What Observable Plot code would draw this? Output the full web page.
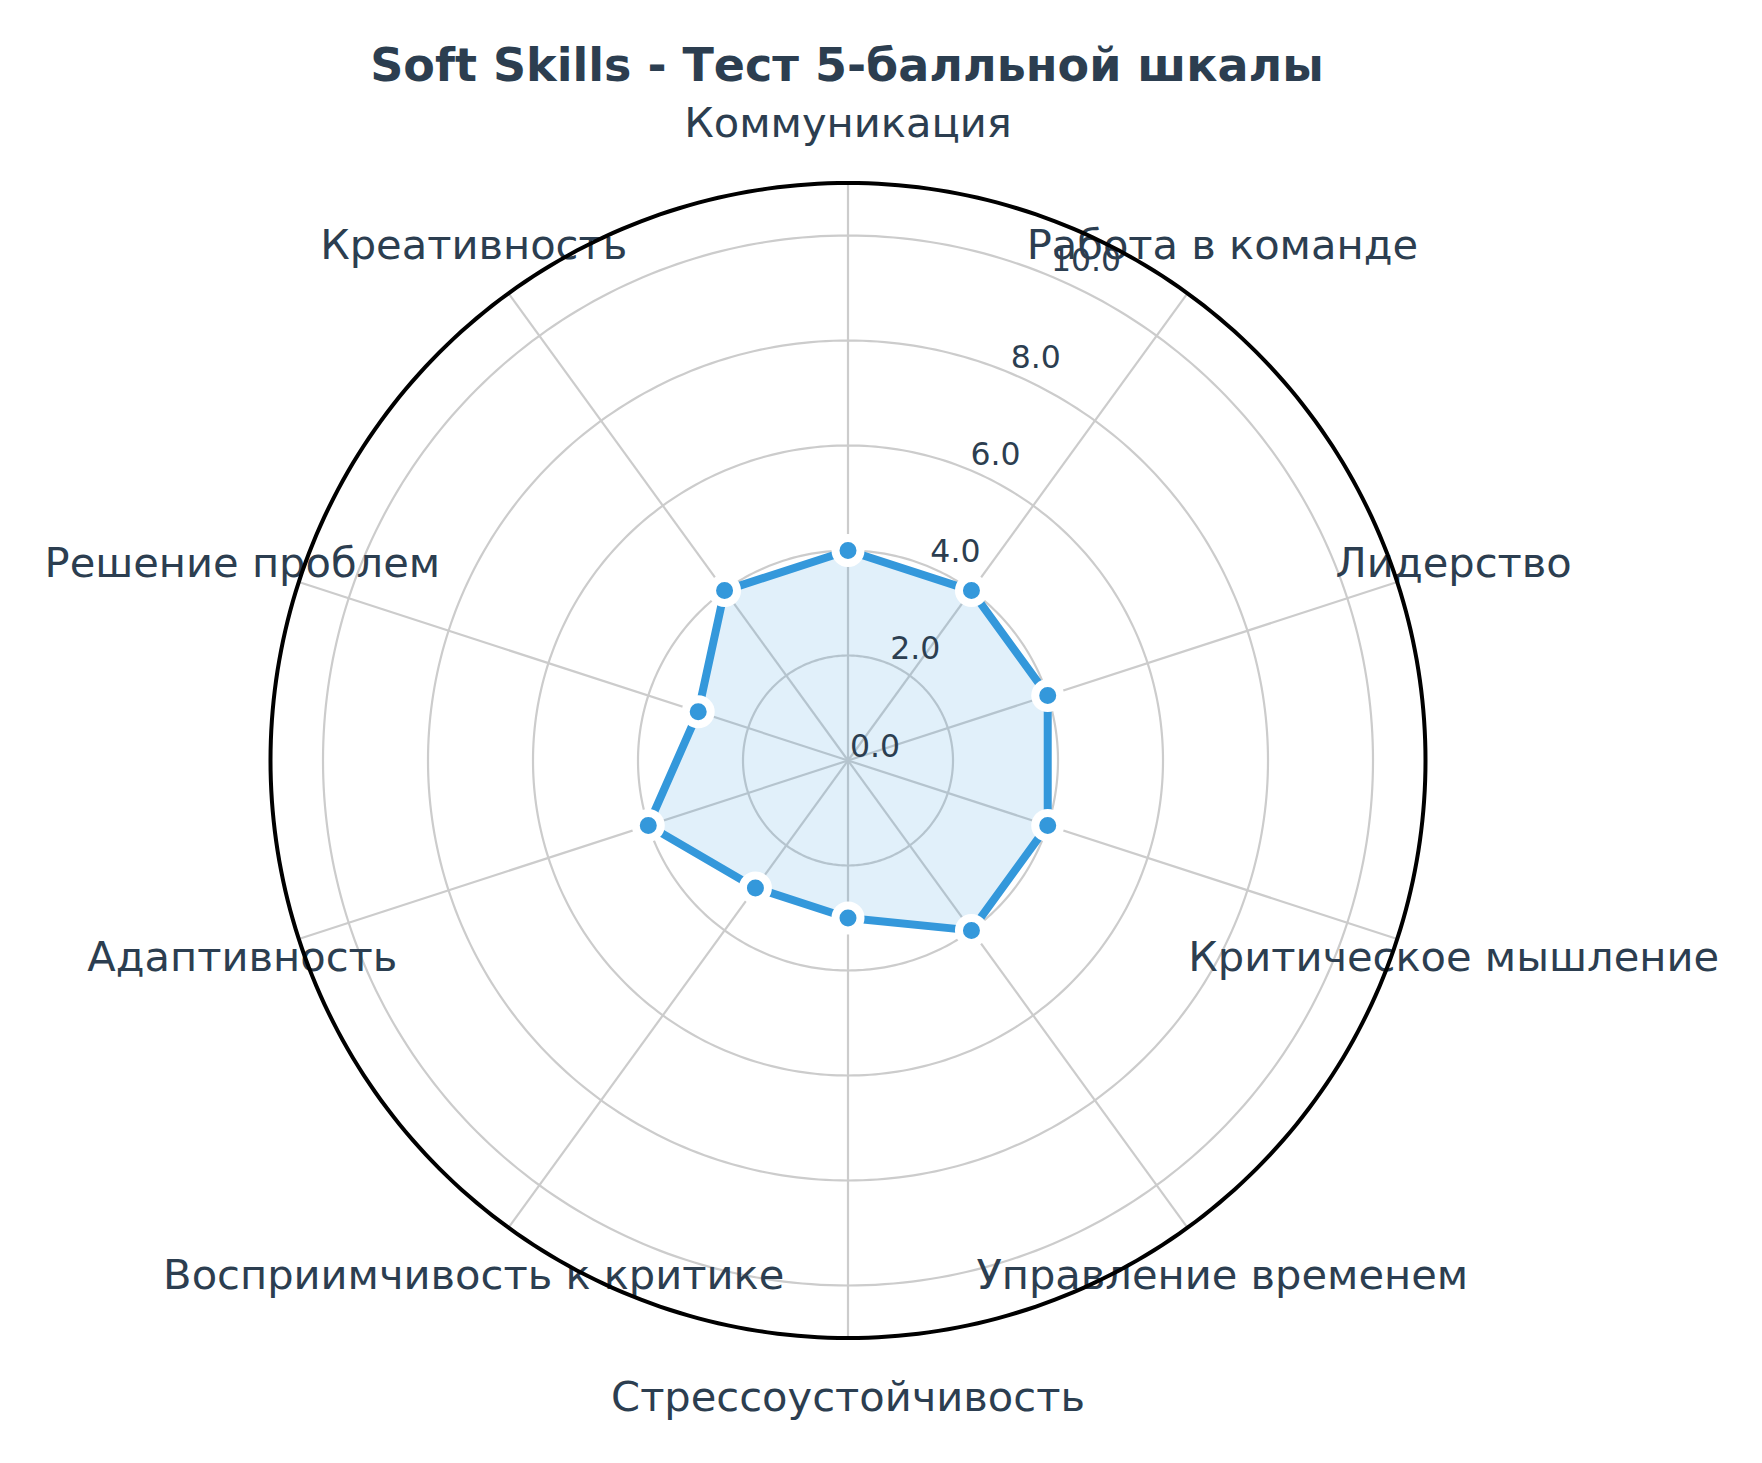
<!DOCTYPE html>
<html>
<head>
<meta charset="utf-8">
<script src="https://cdn.jsdelivr.net/npm/d3@7"></script>
<script src="https://cdn.jsdelivr.net/npm/@observablehq/plot@0.6"></script>
<style>
  html, body { margin: 0; padding: 0; background: #fff; }
  #wrap { position: relative; width: 1762px; height: 1463px; overflow: hidden; }
  #title { position: absolute; left: 847px; top: 37px; transform: translateX(-50%);
           font-family: "DejaVu Sans", sans-serif; font-weight: bold; font-size: 46px;
           color: #2c3e50; white-space: nowrap; line-height: 56px; }
  #chart { position: absolute; left: 0; top: 90px; }
</style>
</head>
<body>
<div id="wrap">
  <div id="title">Soft Skills - Тест 5-балльной шкалы</div>
  <div id="chart"></div>
</div>
<script>
const categories = ["Коммуникация", "Работа в команде", "Лидерство", "Критическое мышление",
  "Управление временем", "Стрессоустойчивость", "Восприимчивость к критике",
  "Адаптивность", "Решение проблем", "Креативность"];
const values = [4, 4, 4, 4, 4, 3, 3, 4, 3, 4];
const radialTicks = [0, 2, 4, 6, 8, 10];
const radialMax = 11;

const W = 1762, H = 1373;
const cx = 847.5, cy = 670, unit = 52.5;
const n = categories.length;
const ang = i => (i / n) * 2 * Math.PI; // clockwise from north
const px = (r, a) => r * Math.sin(a);
const py = (r, a) => r * Math.cos(a);

// grid circles built from tick values
const gridPts = [];
for (const r of radialTicks.filter(t => t > 0)) {
  for (let k = 0; k <= 360; k++) {
    const a = k / 360 * 2 * Math.PI;
    gridPts.push({r, x: px(r, a), y: py(r, a)});
  }
}
const outerPts = d3.range(0, 361).map(k => {
  const a = k / 360 * 2 * Math.PI;
  return {x: px(radialMax, a), y: py(radialMax, a)};
});
const spokes = categories.map((c, i) => ({x2: px(radialMax, ang(i)), y2: py(radialMax, ang(i))}));
const pts = categories.map((c, i) => ({c, v: values[i], x: px(values[i], ang(i)), y: py(values[i], ang(i))}));
const closed = [...pts, pts[0]];
const labelR = 12.13;
const labels = categories.map((c, i) => ({c, x: px(labelR, ang(i)), y: py(labelR, ang(i))}));
const rlabAng = 22.5 / 180 * Math.PI;
const rlabels = radialTicks.map(t => ({t, x: px(t, rlabAng), y: py(t, rlabAng)}));

const plot = Plot.plot({
  width: W, height: H,
  margin: 0,
  style: {fontFamily: "DejaVu Sans, sans-serif", background: "white"},
  x: {type: "linear", domain: [0, 1], range: [cx, cx + unit], axis: null},
  y: {type: "linear", domain: [0, 1], range: [cy, cy - unit], axis: null},
  marks: [
    Plot.line(gridPts, {x: "x", y: "y", z: "r", stroke: "#cccccc", strokeWidth: 2.2}),
    Plot.link(spokes, {x1: 0, y1: 0, x2: "x2", y2: "y2", stroke: "#cccccc", strokeWidth: 2.2}),
    Plot.line(closed, {x: "x", y: "y", fill: "#3498db", fillOpacity: 0.15, stroke: "none"}),
    Plot.line(closed, {x: "x", y: "y", stroke: "#3498db", strokeWidth: 8, strokeLinejoin: "round"}),
    Plot.dot(pts, {x: "x", y: "y", r: 12.5, fill: "#3498db", stroke: "white", strokeWidth: 8}),
    Plot.text(rlabels, {x: "x", y: "y", text: d => d.t.toFixed(1), textAnchor: "start",
      lineAnchor: "bottom", dx: 2, dy: -4, fontSize: 31.5, fill: "#2c3e50"}),
    Plot.text(labels, {x: "x", y: "y", text: "c", textAnchor: "middle", lineAnchor: "middle",
      fontSize: 41.6, fill: "#2c3e50"}),
    Plot.line(outerPts, {x: "x", y: "y", stroke: "black", strokeWidth: 4})
  ]
});
document.getElementById("chart").appendChild(plot);
</script>
</body>
</html>
